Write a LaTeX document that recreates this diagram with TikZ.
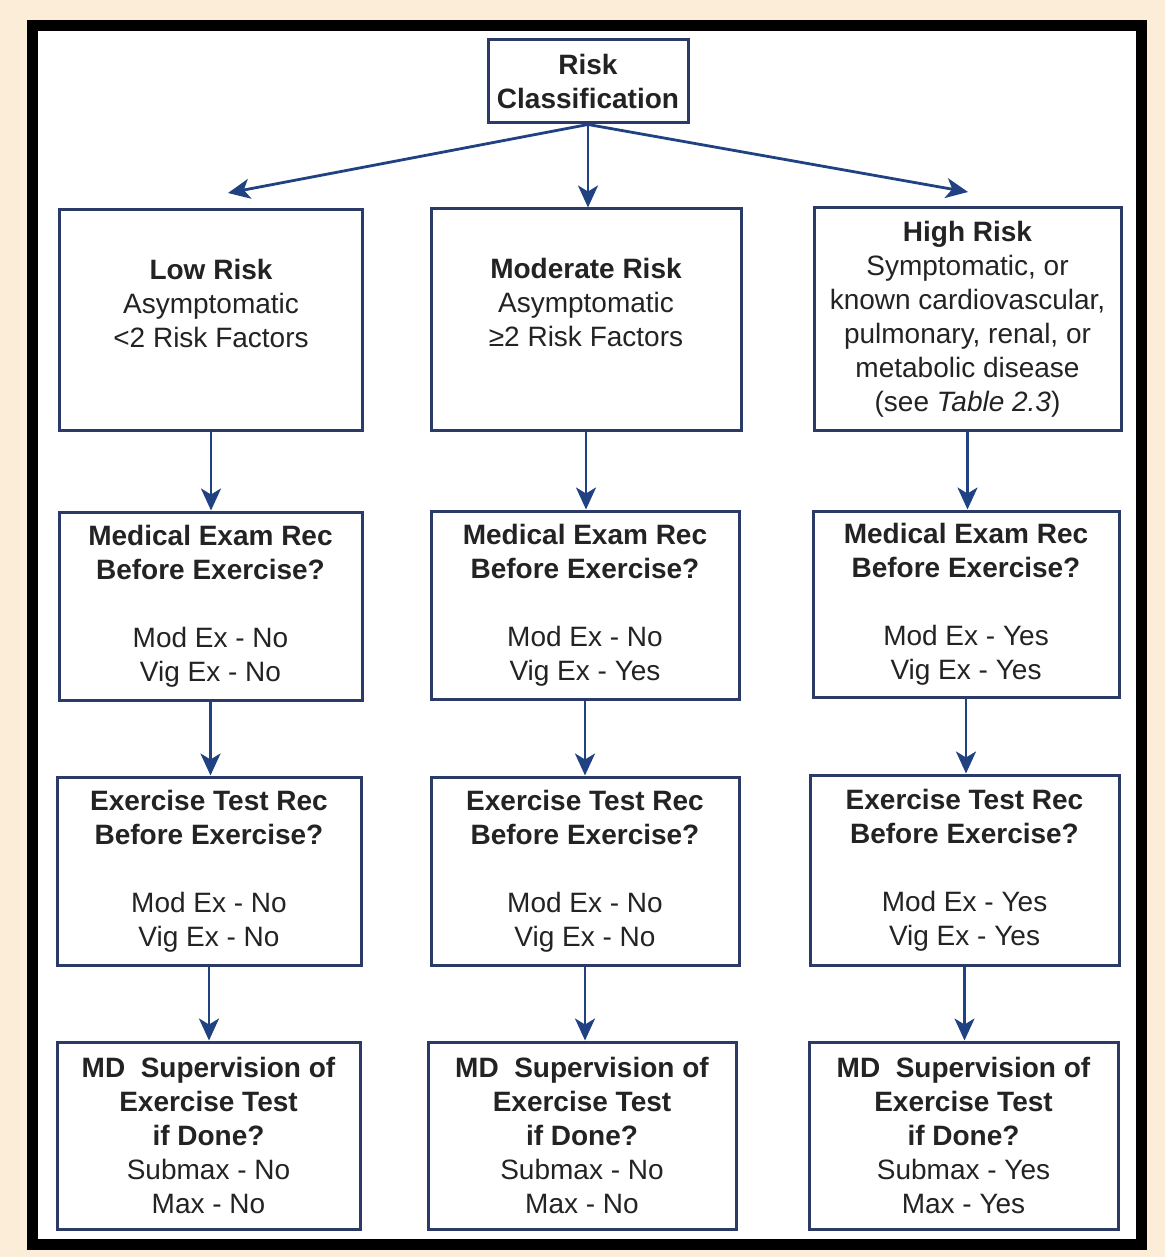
\documentclass[tikz,border=0pt]{standalone}
\usepackage{fontspec}
\setmainfont{Liberation Sans}
\usetikzlibrary{arrows.meta}
\definecolor{cream}{RGB}{251,237,216}
\definecolor{boxline}{RGB}{44,58,104}
\definecolor{arrowblue}{RGB}{32,66,130}
\definecolor{inktext}{RGB}{35,35,35}
\tikzset{
  riskbox/.style={draw=boxline, line width=1.5pt, fill=white, align=center,
    inner sep=0pt, text=inktext, font=\fontsize{14}{17}\selectfont},
  flowarrow/.style={draw=arrowblue, line width=1.4pt,
    -{Stealth[length=11pt,width=10pt,inset=3pt,fill=arrowblue]}}
}
\begin{document}
\begin{tikzpicture}[x=0.5pt,y=-0.5pt]
  % page, frame
  \fill[cream] (0,0) rectangle (1165,1257);
  \draw[line width=5.5pt, fill=white] (32,26) rectangle (1141,1244);

  \node[riskbox, minimum width=100pt, minimum height=41.5pt] (risk) at (588,81.5)
    {\textbf{Risk}\\ \textbf{Classification}};

  % risk groups
  \node[riskbox, minimum width=151.5pt, minimum height=110pt] (low) at (211,320)
    {\textbf{Low Risk}\\ Asymptomatic\\ <2 Risk Factors\\ \mbox{}};
  \node[riskbox, minimum width=155pt, minimum height=110.5pt] (mod) at (586,319.5)
    {\textbf{Moderate Risk}\\ Asymptomatic\\ ≥2 Risk Factors\\ \mbox{}};
  \node[riskbox, minimum width=153.5pt, minimum height=111pt] (high) at (967.5,319)
    {\textbf{High Risk}\\ Symptomatic, or\\ known cardiovascular,\\ pulmonary, renal, or\\
     metabolic disease\\ (see \textit{Table 2.3})};

  % medical exam
  \node[riskbox, minimum width=151.5pt, minimum height=94pt] (lowexam) at (210.5,606)
    {\textbf{Medical Exam Rec}\\ \textbf{Before Exercise?}\\[17pt] Mod Ex - No\\ Vig Ex - No};
  \node[riskbox, minimum width=154pt, minimum height=94pt] (modexam) at (585,605)
    {\textbf{Medical Exam Rec}\\ \textbf{Before Exercise?}\\[17pt] Mod Ex - No\\ Vig Ex - Yes};
  \node[riskbox, minimum width=153pt, minimum height=93pt] (highexam) at (966,604)
    {\textbf{Medical Exam Rec}\\ \textbf{Before Exercise?}\\[17pt] Mod Ex - Yes\\ Vig Ex - Yes};

  % exercise test
  \node[riskbox, minimum width=152pt, minimum height=94pt] (lowtest) at (209,871)
    {\textbf{Exercise Test Rec}\\ \textbf{Before Exercise?}\\[17pt] Mod Ex - No\\ Vig Ex - No};
  \node[riskbox, minimum width=154pt, minimum height=94pt] (modtest) at (585,871)
    {\textbf{Exercise Test Rec}\\ \textbf{Before Exercise?}\\[17pt] Mod Ex - No\\ Vig Ex - No};
  \node[riskbox, minimum width=154.5pt, minimum height=95pt] (hightest) at (964.5,870)
    {\textbf{Exercise Test Rec}\\ \textbf{Before Exercise?}\\[17pt] Mod Ex - Yes\\ Vig Ex - Yes};

  % MD supervision
  \node[riskbox, minimum width=151.5pt, minimum height=93.5pt] (lowmd) at (208.5,1135.5)
    {\textbf{MD~ Supervision of}\\ \textbf{Exercise Test}\\ \textbf{if Done?}\\ Submax - No\\ Max - No};
  \node[riskbox, minimum width=154pt, minimum height=93.5pt] (modmd) at (582,1135.5)
    {\textbf{MD~ Supervision of}\\ \textbf{Exercise Test}\\ \textbf{if Done?}\\ Submax - No\\ Max - No};
  \node[riskbox, minimum width=154.5pt, minimum height=93.5pt] (highmd) at (963.5,1135.5)
    {\textbf{MD~ Supervision of}\\ \textbf{Exercise Test}\\ \textbf{if Done?}\\ Submax - Yes\\ Max - Yes};

  % arrows
  \coordinate (lowtip) at (228,193);
  \coordinate (hightip) at (968,192);
  \draw[flowarrow] (risk.south) -- (lowtip);
  \draw[flowarrow] (risk.south) -- (mod.north -| risk.south);
  \draw[flowarrow] (risk.south) -- (hightip);

  \draw[flowarrow] (low.south) -- (low.south |- lowexam.north);
  \draw[flowarrow] (lowexam.south) -- (lowexam.south |- lowtest.north);
  \draw[flowarrow] (lowtest.south) -- (lowtest.south |- lowmd.north);

  \draw[flowarrow] (mod.south) -- (mod.south |- modexam.north);
  \draw[flowarrow] (modexam.south) -- (modexam.south |- modtest.north);
  \draw[flowarrow] (modtest.south) -- (modtest.south |- modmd.north);

  \draw[flowarrow] (high.south) -- (high.south |- highexam.north);
  \draw[flowarrow] (highexam.south) -- (highexam.south |- hightest.north);
  \draw[flowarrow] (hightest.south) -- (hightest.south |- highmd.north);
\end{tikzpicture}
\end{document}
